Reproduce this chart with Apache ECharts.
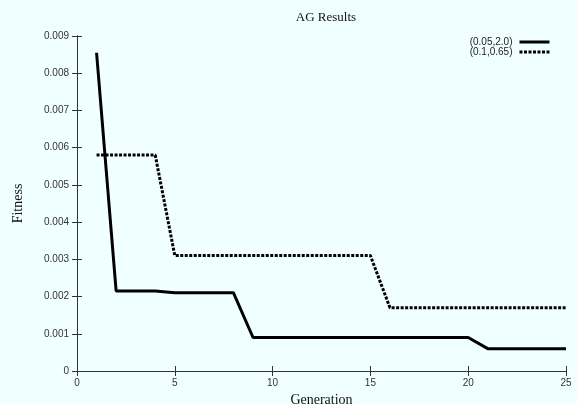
<!DOCTYPE html>
<html lang="en">
<head>
    <meta charset="UTF-8">
    <title>AG Results</title>
    <script src="https://cdn.jsdelivr.net/npm/echarts@6/dist/echarts.min.js"></script>
    <style>
        html, body { margin: 0; padding: 0; background: #f0ffff; }
    </style>
</head>
<body>
    <div id="main" style="width:577px;height:404px;"></div>
    <script>
        // generations 1..25
        var generations = [];
        for (var g = 1; g <= 25; g++) generations.push(g);

        // (0.05,2.0) - solid
        var fitA = [0.00855, 0.00215, 0.00215, 0.00215, 0.0021, 0.0021, 0.0021, 0.0021,
                    0.0009, 0.0009, 0.0009, 0.0009, 0.0009, 0.0009, 0.0009, 0.0009,
                    0.0009, 0.0009, 0.0009, 0.0009, 0.0006, 0.0006, 0.0006, 0.0006, 0.0006];
        // (0.1,0.65) - dotted
        var fitB = [0.0058, 0.0058, 0.0058, 0.0058, 0.0031, 0.0031, 0.0031, 0.0031,
                    0.0031, 0.0031, 0.0031, 0.0031, 0.0031, 0.0031, 0.0031, 0.0017,
                    0.0017, 0.0017, 0.0017, 0.0017, 0.0017, 0.0017, 0.0017, 0.0017, 0.0017];

        var names = ['(0.05,2.0)', '(0.1,0.65)'];

        function pairs(ys) {
            return generations.map(function (x, i) { return [x, ys[i]]; });
        }

        var axisColor = '#333';
        var tickFont = { color: '#333', fontSize: 10, fontFamily: 'Liberation Sans' };

        var myChart = echarts.init(document.getElementById('main'));
        myChart.setOption({
            backgroundColor: '#f0ffff',
            animation: false,
            title: {
                text: 'AG Results',
                left: 321, top: 6, textAlign: 'center',
                textStyle: { fontFamily: 'Liberation Serif', fontWeight: 'normal', fontSize: 13, color: '#111' }
            },
            legend: {
                right: 26, top: 37, padding: 0,
                orient: 'vertical',
                align: 'right',
                itemGap: 0,
                itemWidth: 30, itemHeight: 9,
                itemStyle: { opacity: 0 },
                lineStyle: { width: 3 },
                textStyle: { fontSize: 10, fontFamily: 'Liberation Sans', color: '#222', padding: [0, 2, 0, 0] },
                data: names
            },
            grid: { left: 77, right: 11, top: 36, bottom: 33, outerBoundsMode: 'none', containLabel: false },
            xAxis: [{
                type: 'value', min: 0, max: 25, interval: 5,
                name: 'Generation', nameLocation: 'middle', nameGap: 19,
                nameTextStyle: { fontFamily: 'Liberation Serif', fontSize: 14, color: '#111' },
                axisLine: { lineStyle: { color: axisColor } },
                axisTick: { inside: true, length: 5, lineStyle: { color: axisColor } },
                axisLabel: Object.assign({ margin: 7 }, tickFont),
                splitLine: { show: false }
            }, {
                type: 'value', min: 0, max: 25, interval: 5, position: 'top',
                axisLine: { lineStyle: { color: axisColor } },
                axisTick: { inside: true, length: 5, lineStyle: { color: axisColor } },
                axisLabel: { show: false },
                splitLine: { show: false }
            }],
            yAxis: [{
                type: 'value', min: 0, max: 0.009, interval: 0.001,
                name: 'Fitness', nameLocation: 'middle', nameGap: 52, nameRotate: 90,
                nameTextStyle: { fontFamily: 'Liberation Serif', fontSize: 14, color: '#111' },
                axisLine: { show: true, lineStyle: { color: axisColor } },
                axisTick: { show: true, inside: true, length: 5, lineStyle: { color: axisColor } },
                axisLabel: Object.assign({
                    margin: 8,
                    formatter: function (v) { return v === 0 ? '0' : v.toFixed(3); }
                }, tickFont),
                splitLine: { show: false }
            }, {
                type: 'value', min: 0, max: 0.009, interval: 0.001, position: 'right',
                axisLine: { show: true, lineStyle: { color: axisColor } },
                axisTick: { show: true, inside: true, length: 5, lineStyle: { color: axisColor } },
                axisLabel: { show: false },
                splitLine: { show: false }
            }],
            series: [{
                name: names[0], type: 'line', symbol: 'none',
                itemStyle: { color: '#000' },
                lineStyle: { color: '#000', width: 3 },
                data: pairs(fitA)
            }, {
                name: names[1], type: 'line', symbol: 'none',
                itemStyle: { color: '#000' },
                lineStyle: { color: '#000', width: 3, type: [3, 1.5] },
                data: pairs(fitB)
            }]
        });
    </script>
</body>
</html>
